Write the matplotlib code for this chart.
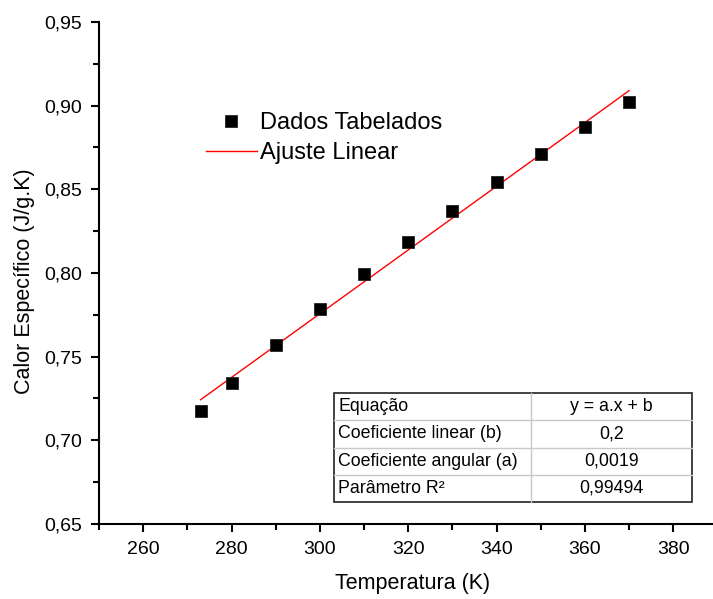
import numpy as np
import matplotlib
matplotlib.use("Agg")
import matplotlib.pyplot as plt
from matplotlib.patches import Rectangle
from matplotlib.ticker import MultipleLocator, FuncFormatter

plt.rcParams['font.family'] = ['Liberation Sans', 'DejaVu Sans']

# Specific heat data (temperature in K, c in J/g.K)
temperatura = [273, 280, 290, 300, 310, 320, 330, 340, 350, 360, 370]
calor_especifico = [0.7175, 0.7340, 0.7568, 0.7785, 0.7994, 0.8187,
                    0.8373, 0.8546, 0.8711, 0.8871, 0.9020]

table_rows = [
    ["Equação", "y = a.x + b"],
    ["Coeficiente linear (b)", "0,2"],
    ["Coeficiente angular (a)", "0,0019"],
    ["Parâmetro R²", "0,99494"],
]

x = np.array(temperatura, dtype=float)
y = np.array(calor_especifico, dtype=float)
a, b = np.polyfit(x, y, 1)
x_fit = np.array([x.min(), x.max()])
y_fit = a * x_fit + b

W, H = 713, 599
fig = plt.figure(figsize=(W / 100, H / 100), dpi=100)
ax = fig.add_axes([99 / W, (H - 524) / H, (W - 99) / W, (524 - 22) / H])

ax.plot(x, y, linestyle='none', marker='s', markersize=9.3, color='black',
        markeredgewidth=0.6, markeredgecolor='#222222', label='Dados Tabelados', zorder=3)
ax.plot(x_fit, y_fit, color='#ff0000', linewidth=1.0, label='Ajuste Linear', zorder=2)

ax.set_xlim(250, 389)
ax.set_ylim(0.65, 0.95)
ax.xaxis.set_major_locator(MultipleLocator(20))
ax.xaxis.set_minor_locator(MultipleLocator(10))
ax.yaxis.set_major_locator(MultipleLocator(0.05))
ax.yaxis.set_minor_locator(MultipleLocator(0.025))
ax.xaxis.set_major_formatter(FuncFormatter(lambda v, p: f"{v:.0f}"))
ax.yaxis.set_major_formatter(FuncFormatter(lambda v, p: f"{v:.2f}".replace('.', ',')))

for side in ['top', 'right']:
    ax.spines[side].set_visible(False)
for side in ['left', 'bottom']:
    ax.spines[side].set_linewidth(1.5)
ax.tick_params(which='major', direction='out', length=6, width=1.5, labelsize=14, pad=6)
ax.tick_params(which='minor', direction='out', length=4, width=1.5)

ax.set_xlabel('Temperatura (K)', fontsize=15.5, labelpad=12)
ax.set_ylabel('Calor Específico (J/g.K)', fontsize=15.5, labelpad=8)
ax.xaxis.set_label_coords((413 - 99) / (W - 99), -(583 - 524) / (524 - 22), transform=ax.transAxes)
ax.xaxis.label.set_va('center')
ax.yaxis.set_label_coords(-(99 - 25) / (W - 99), (524 - 281) / (524 - 22), transform=ax.transAxes)
ax.yaxis.label.set_va('center')

leg = ax.legend(loc='upper left', bbox_to_anchor=(206 / W, 1 - 112 / H),
                bbox_transform=fig.transFigure, frameon=False, fontsize=17,
                handlelength=2.15, handletextpad=0.15, labelspacing=0.33,
                borderpad=0, borderaxespad=0)

# Fit parameters table
tx0, tx1 = 334, 692
ty0, ty1 = 393, 502
col_split = 531
nrows = len(table_rows)
row_h = (ty1 - ty0) / nrows

def to_ax(px, py):
    return ((px - 99) / (W - 99), (524 - py) / (524 - 22))

for i in range(1, nrows):
    yy = ty0 + i * row_h
    (xa, ya), (xb, _) = to_ax(tx0, yy), to_ax(tx1, yy)
    ax.plot([xa, xb], [ya, ya], transform=ax.transAxes, color='#c8c8c8', lw=1.0, zorder=4)
(xs, ys0), (_, ys1) = to_ax(col_split, ty0), to_ax(col_split, ty1)
ax.plot([xs, xs], [ys0, ys1], transform=ax.transAxes, color='#c8c8c8', lw=1.0, zorder=4)
(rx0, ry1), (rx1, ry0) = to_ax(tx0, ty0), to_ax(tx1, ty1)
ax.add_patch(Rectangle((rx0, ry0), rx1 - rx0, ry1 - ry0, transform=ax.transAxes,
                       facecolor='white', edgecolor='#333333', lw=1.3, zorder=3.5))

for i, (left_txt, right_txt) in enumerate(table_rows):
    yc = ty0 + (i + 0.5) * row_h
    xl, yl = to_ax(tx0 + 4, yc)
    xr, _ = to_ax((col_split + tx1) / 2, yc)
    ax.text(xl, yl, left_txt, transform=ax.transAxes, fontsize=12.8, ha='left', va='center', zorder=5)
    ax.text(xr, yl, right_txt, transform=ax.transAxes, fontsize=12.8, ha='center', va='center', zorder=5)

fig.savefig('out.png', dpi=100, facecolor='white')
